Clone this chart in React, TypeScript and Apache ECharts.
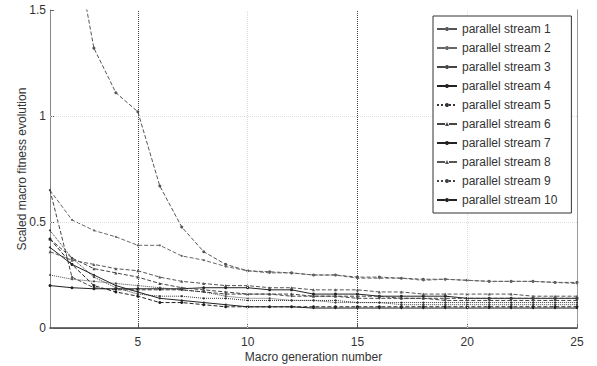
import React, { useEffect, useRef } from "react";
import * as echarts from "echarts";

const generations = Array.from({ length: 25 }, (_, i) => i + 1);
const xTickLabels = [5, 10, 15, 20, 25];
const yTickLabels = [0, 0.5, 1, 1.5];

const stream1 = [2.6, 1.88, 1.32, 1.11, 1.02, 0.67, 0.476, 0.36, 0.3, 0.27, 0.265, 0.26, 0.25, 0.25, 0.24, 0.24, 0.235, 0.23, 0.23, 0.225, 0.22, 0.22, 0.22, 0.215, 0.215];
const stream2 = [0.65, 0.51, 0.46, 0.43, 0.39, 0.39, 0.34, 0.32, 0.29, 0.27, 0.26, 0.26, 0.25, 0.25, 0.235, 0.235, 0.235, 0.225, 0.23, 0.225, 0.22, 0.22, 0.22, 0.215, 0.21];
const stream3 = [0.65, 0.24, 0.19, 0.18, 0.18, 0.18, 0.18, 0.17, 0.16, 0.16, 0.16, 0.15, 0.15, 0.15, 0.14, 0.14, 0.14, 0.14, 0.13, 0.13, 0.13, 0.13, 0.13, 0.13, 0.13];
const stream4 = [0.2, 0.19, 0.185, 0.185, 0.185, 0.185, 0.185, 0.19, 0.19, 0.19, 0.18, 0.18, 0.16, 0.16, 0.16, 0.15, 0.15, 0.15, 0.15, 0.14, 0.14, 0.14, 0.14, 0.14, 0.14];
const stream5 = [0.46, 0.33, 0.24, 0.19, 0.16, 0.15, 0.15, 0.14, 0.14, 0.13, 0.13, 0.13, 0.13, 0.13, 0.12, 0.12, 0.12, 0.12, 0.12, 0.12, 0.12, 0.12, 0.12, 0.12, 0.12];
const stream6 = [0.42, 0.33, 0.28, 0.26, 0.24, 0.21, 0.19, 0.18, 0.17, 0.16, 0.16, 0.16, 0.15, 0.15, 0.15, 0.15, 0.14, 0.14, 0.14, 0.14, 0.14, 0.14, 0.14, 0.14, 0.14];
const stream7 = [0.38, 0.3, 0.25, 0.2, 0.17, 0.14, 0.13, 0.12, 0.11, 0.1, 0.1, 0.1, 0.094, 0.094, 0.094, 0.094, 0.094, 0.094, 0.094, 0.094, 0.094, 0.094, 0.094, 0.094, 0.094];
const stream8 = [0.36, 0.32, 0.3, 0.28, 0.27, 0.24, 0.22, 0.21, 0.2, 0.2, 0.19, 0.19, 0.18, 0.18, 0.18, 0.17, 0.17, 0.16, 0.16, 0.16, 0.16, 0.16, 0.15, 0.15, 0.15];
const stream9 = [0.25, 0.23, 0.22, 0.21, 0.2, 0.19, 0.18, 0.17, 0.15, 0.14, 0.14, 0.13, 0.13, 0.12, 0.12, 0.12, 0.11, 0.11, 0.11, 0.11, 0.11, 0.11, 0.11, 0.11, 0.11];
const stream10 = [0.42, 0.3, 0.2, 0.17, 0.15, 0.12, 0.12, 0.11, 0.1, 0.1, 0.1, 0.1, 0.1, 0.1, 0.1, 0.1, 0.1, 0.1, 0.1, 0.1, 0.1, 0.1, 0.1, 0.1, 0.1];

const streams = [stream1, stream2, stream3, stream4, stream5, stream6, stream7, stream8, stream9, stream10];
const streamNames = streams.map((_, i) => `parallel stream ${i + 1}`);

const styles = [
  { color: "#555", type: "dashed", symbol: "circle", size: 3 },
  { color: "#666", type: "dashed", symbol: "circle", size: 2 },
  { color: "#444", type: "dashed", symbol: "circle", size: 2 },
  { color: "#222", type: "solid", symbol: "circle", size: 3 },
  { color: "#333", type: "dotted", symbol: "circle", size: 2 },
  { color: "#444", type: "dashed", symbol: "triangle", size: 3 },
  { color: "#222", type: "solid", symbol: "circle", size: 2 },
  { color: "#555", type: "dashed", symbol: "triangle", size: 3 },
  { color: "#444", type: "dotted", symbol: "circle", size: 2 },
  { color: "#222", type: "dashed", symbol: "circle", size: 3 },
];

const font = "'Liberation Sans', Arial, sans-serif";

export default function App() {
  const ref = useRef<HTMLDivElement>(null);
  useEffect(() => {
    if (!ref.current) return;
    const chart = echarts.init(ref.current, null, { renderer: "svg" });
    const series: any[] = streams.map((vals, i) => ({
      name: streamNames[i],
      type: "line",
      data: vals.map((v, j) => [generations[j], v]),
      symbol: styles[i].symbol,
      symbolSize: styles[i].size,
      showSymbol: true,
      clip: true,
      itemStyle: { color: styles[i].color },
      lineStyle: { color: styles[i].color, width: 1, type: styles[i].type },
      z: 3,
    }));
    series[0].markLine = {
      silent: true,
      symbol: "none",
      label: { show: false },
      data: [
        { xAxis: 5, lineStyle: { color: "#444", type: "dotted", width: 1 } },
        { xAxis: 10, lineStyle: { color: "#ddd", type: "dotted", width: 1 } },
        { xAxis: 15, lineStyle: { color: "#444", type: "dotted", width: 1 } },
        { xAxis: 20, lineStyle: { color: "#ddd", type: "dotted", width: 1 } },
        { yAxis: 0.5, lineStyle: { color: "#ddd", type: "dotted", width: 1 } },
        { yAxis: 1, lineStyle: { color: "#ddd", type: "dotted", width: 1 } },
      ],
    };
    chart.setOption({
      animation: false,
      backgroundColor: "#fff",
      grid: { left: 50, right: 20, top: 10, bottom: 38, outerBoundsMode: "none", containLabel: false },
      legend: {
        data: streamNames,
        orient: "vertical",
        left: 433,
        top: 16,
        backgroundColor: "#fff",
        borderColor: "#333",
        borderWidth: 1,
        borderRadius: 0,
        padding: [6, 14, 6, 3],
        itemGap: 5,
        itemWidth: 20,
        itemHeight: 5,
        textStyle: { fontFamily: font, fontSize: 12, color: "#333", lineHeight: 14 },
        z: 10,
      },
      xAxis: [
        {
          type: "value",
          min: 1,
          max: 25,
          name: "Macro generation number",
          nameLocation: "middle",
          nameGap: 23,
          nameMoveOverlap: false,
          nameTextStyle: { fontFamily: font, fontSize: 12, color: "#333" },
          axisLine: { show: true, lineStyle: { color: "#888" } },
          axisTick: { show: true, inside: true, length: 4, customValues: xTickLabels, lineStyle: { color: "#666" } },
          axisLabel: { customValues: xTickLabels, fontFamily: font, fontSize: 12, color: "#333", margin: 8 },
          splitLine: { show: false },
        },
        {
          type: "value",
          position: "top",
          min: 1,
          max: 25,
          axisLine: { show: true, lineStyle: { color: "#444", width: 1.5 } },
          axisTick: { show: false },
          axisLabel: { show: false },
          splitLine: { show: false },
        },
      ],
      yAxis: [
        {
          type: "value",
          min: 0,
          max: 1.5,
          interval: 0.5,
          name: "Scaled macro fitness evolution",
          nameLocation: "middle",
          nameGap: 22,
          nameMoveOverlap: false,
          nameRotate: 90,
          nameTextStyle: { fontFamily: font, fontSize: 12, color: "#333" },
          axisLine: { show: true, lineStyle: { color: "#888" } },
          axisTick: { show: true, inside: true, length: 4, lineStyle: { color: "#666" } },
          axisLabel: {
            fontFamily: font,
            fontSize: 12,
            color: "#333",
            margin: 4,
            formatter: (v: number) => (yTickLabels.includes(v) ? String(v) : ""),
          },
          splitLine: { show: false },
        },
        {
          type: "value",
          position: "right",
          min: 0,
          max: 1.5,
          interval: 0.5,
          axisLine: { show: true, lineStyle: { color: "#999" } },
          axisTick: { show: false },
          axisLabel: { show: false },
          splitLine: { show: false },
        },
      ],
      series,
    });
    return () => chart.dispose();
  }, []);
  return (
    <div
      ref={ref}
      style={{ position: "absolute", left: 0, top: 0, width: 597, height: 366 }}
    />
  );
}
